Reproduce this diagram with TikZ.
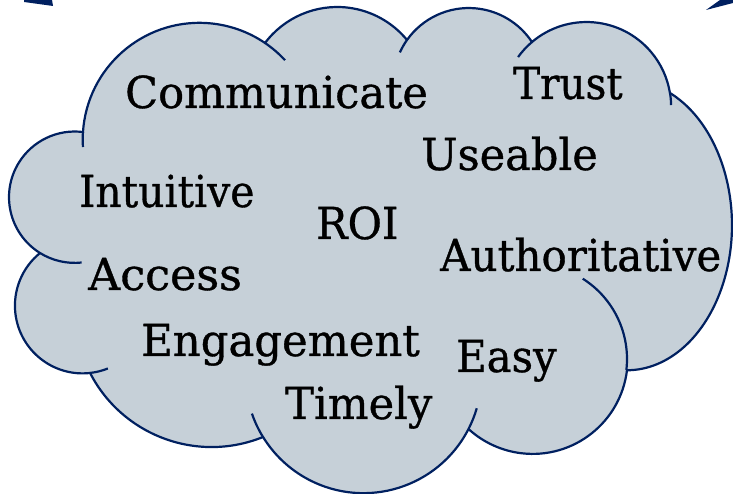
\documentclass[tikz,border=0pt]{standalone}
\usepackage{fontspec}
\setmainfont{DejaVu Serif}
\newfontfamily\wordfont[FakeBold=0.8]{DejaVu Serif}
\definecolor{cloudfill}{RGB}{198,208,216}
\definecolor{cloudline}{RGB}{0,32,96}
\begin{document}
\begin{tikzpicture}[x=1pt,y=1pt,line join=round,
  cloudedge/.style={draw=cloudline,line width=2.2pt},
  word/.style={anchor=base west,inner sep=0pt,font=\wordfont\fontsize{44}{48}\selectfont,text=black}]
\useasboundingbox (0,0) rectangle (733,494);
% arrow tips at the top corners
\fill[cloudline] (24,494) -- (52,494) -- (53,488) -- (24,492) -- cycle;
\fill[cloudline] (706,484) -- (720,494) -- (733,494) -- (733,491) -- cycle;
% cloud outline
\path[fill=cloudfill,cloudedge]
  (83,362) arc[start angle=176.3,end angle=55.8,radius=116.7]
  -- (265,451) arc[start angle=143.0,end angle=39.4,radius=90.4]
  -- (407,454) arc[start angle=144.7,end angle=33.4,radius=75.7]
  -- (532,452) arc[start angle=130.2,end angle=9.2,radius=84.5]
  -- (670,401) arc[start angle=65.8,end angle=-90,x radius=105,y radius=145]
  -- (627,124) arc[start angle=-6.7,end angle=-132,radius=95]
  -- (468,64) arc[start angle=-27.7,end angle=-148.4,radius=118]
  -- (263,57) arc[start angle=-67.9,end angle=-152.7,radius=136.7]
  -- (90,121) arc[start angle=-83.8,end angle=-230.9,radius=67.75]
  -- (40,241) arc[start angle=238.1,end angle=82.7,radius=65.7]
  -- cycle;
% inner hooks
\draw[cloudedge] ([shift={(55.8:116.7)}]199.4,354.5) arc[start angle=55.8,end angle=42.8,radius=116.7];
\draw[cloudedge] ([shift={(176.3:116.7)}]199.4,354.5) arc[start angle=176.3,end angle=183.7,radius=116.7];
\draw[cloudedge] ([shift={(144.7:75.7)}]468.8,410.3) arc[start angle=144.7,end angle=155.6,radius=75.7];
\draw[cloudedge] ([shift={(130.2:84.5)}]586.6,387.5) arc[start angle=130.2,end angle=144.2,radius=84.5];
\draw[cloudedge] ([shift={(9.2:84.5)}]586.6,387.5) arc[start angle=9.2,end angle=1.0,radius=84.5];
\draw[cloudedge] ([shift={(-6.7:95)}]532,135) arc[start angle=-6.7,end angle=57.7,radius=95];
\draw[cloudedge] ([shift={(-27.7:118)}]363.5,118.8) arc[start angle=-27.7,end angle=-16.3,radius=118];
\draw[cloudedge] ([shift={(-148.4:118)}]363.5,118.8) arc[start angle=-148.4,end angle=-161,radius=118];
\draw[cloudedge] ([shift={(-83.8:67.75)}]82.7,188.4) arc[start angle=-83.8,end angle=-68.2,radius=67.75];
\draw[cloudedge] ([shift={(238.1:65.7)}]74.7,296.8) arc[start angle=238.1,end angle=276,radius=65.7];
% words
\node[word,xscale=0.98] (communicate) at (125,386) {Communicate};
\node[word,xscale=0.92] (trust) at (513,395) {Trust};
\node[word,xscale=0.98] (useable) at (421,324) {Useable};
\node[word,xscale=0.93] (intuitive) at (79,287) {Intuitive};
\node[word,xscale=0.95] (roi) at (316,255) {ROI};
\node[word,xscale=0.955] (authoritative) at (440,223) {Authoritative};
\node[word,xscale=1.01] (access) at (88,204) {Access};
\node[word,xscale=0.985] (engagement) at (141,138) {Engagement};
\node[word,xscale=0.95] (easy) at (456,122) {Easy};
\node[word,xscale=0.98] (timely) at (285,75) {Timely};
\end{tikzpicture}
\end{document}
